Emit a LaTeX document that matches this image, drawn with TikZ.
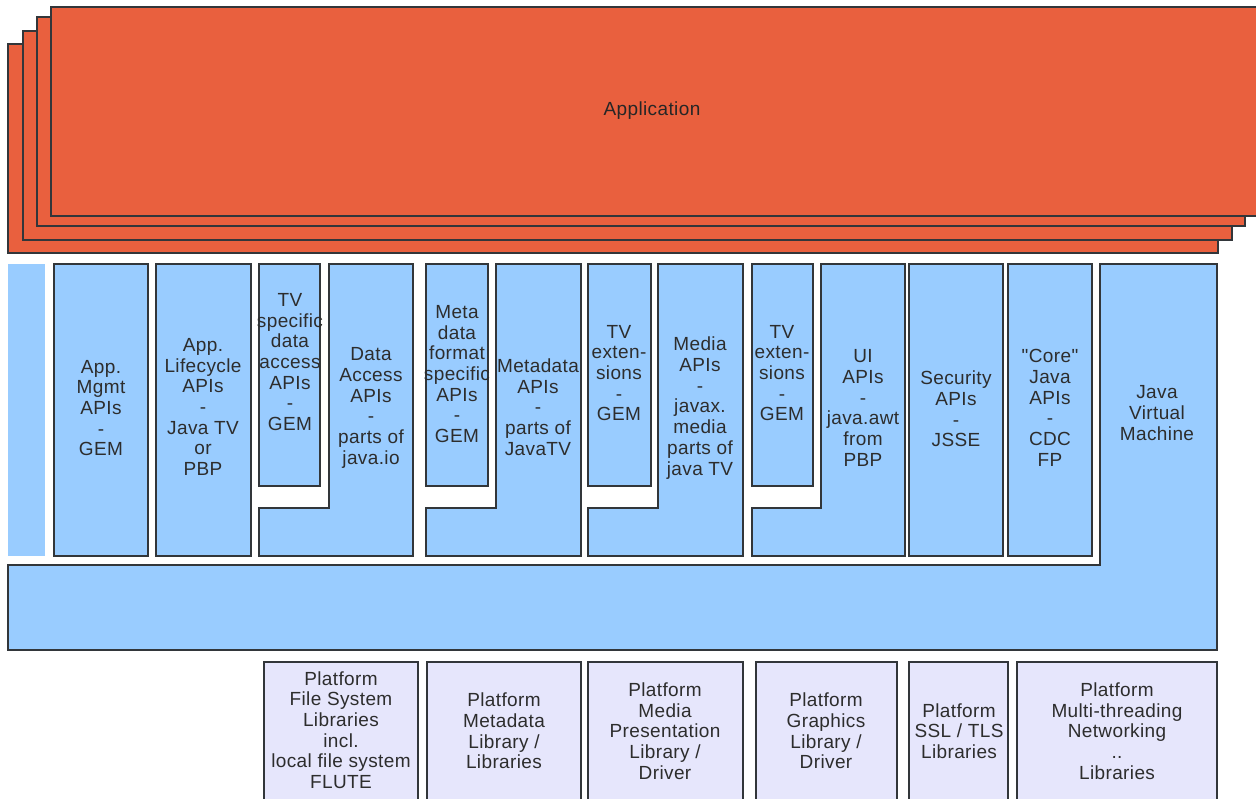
\documentclass[tikz,border=0pt]{standalone}
\usepackage{fontspec}
\setmainfont{Liberation Sans}[LetterSpace=2, Ligatures=TeXOff]
\usepackage{xcolor}
\usetikzlibrary{positioning}
\definecolor{AppOrange}{RGB}{233, 96, 62}
\definecolor{ApiBlue}{RGB}{153, 204, 255}
\definecolor{LibLavender}{RGB}{230, 230, 252}
\definecolor{EdgeGray}{RGB}{50, 54, 58}
\definecolor{LabelGray}{RGB}{45, 45, 45}
\tikzset{
    appbox/.style={fill=AppOrange, draw=EdgeGray, line width=1.2pt},
    apibox/.style={fill=ApiBlue, draw=EdgeGray, line width=1.2pt},
    libbox/.style={fill=LibLavender, draw=EdgeGray, line width=1.2pt},
    lbl/.style={align=center, inner sep=0pt, text=LabelGray,
        font=\fontsize{19}{20.7}\selectfont}
}

\begin{document}
\begin{tikzpicture}[x=1pt, y=-1pt]
    \useasboundingbox (0,0) rectangle (1256,799);
    \clip (0,0) rectangle (1256,799);
    % application stack, back to front
    \draw[appbox] (8,44) rectangle (1218,253);
    \draw[appbox] (23,31) rectangle (1232,240);
    \draw[appbox] (37,17) rectangle (1245,226);
    \draw[appbox] (51,7) rectangle (1262,216);
    \node[lbl, text=black!85] (app) at (652,111) {Application};

    % API layer
    \fill[ApiBlue] (8,264) rectangle (45,556);
    \foreach \a/\b in {54/148, 156/251, 909/1003, 1008/1092}
        \draw[apibox] (\a,264) rectangle (\b,556);
    \foreach \a/\b in {259/320, 426/488, 588/651, 752/813}
        \draw[apibox] (\a,264) rectangle (\b,486);
    \foreach \a/\b/\c in {259/329/413, 426/496/581, 588/658/743, 752/821/905}
        \draw[apibox] (\a,508) -- (\b,508) -- (\b,264) -- (\c,264) -- (\c,556) -- (\a,556) -- cycle;
    % virtual machine
    \draw[apibox] (8,565) -- (1100,565) -- (1100,264) -- (1217,264) -- (1217,650) -- (8,650) -- cycle;

    \node[lbl] (mgmt) at (101,408) {App.\\Mgmt\\APIs\\-\\GEM};
    \node[lbl] (lifecycle) at (203,407) {App.\\Lifecycle\\APIs\\-\\Java TV\\or\\PBP};
    \node[lbl] (tvdata) at (290,362) {TV\\specific\\data\\access\\APIs\\-\\GEM};
    \node[lbl] (dataaccess) at (371,408) {Data\\Access\\APIs\\-\\parts of\\java.io};
    \node[lbl] (metaformat) at (457,374) {Meta\\data\\format\\specific\\APIs\\-\\GEM};
    \node[lbl] (metadata) at (538,407) {Metadata\\APIs\\-\\parts of\\JavaTV};
    \node[lbl] (tvext) at (619,373) {TV\\exten-\\sions\\-\\GEM};
    \node[lbl] (media) at (700,408) {Media\\APIs\\-\\javax.\\media\\parts of\\java TV};
    \node[lbl] (tvexttwo) at (782,373) {TV\\exten-\\sions\\-\\GEM};
    \node[lbl] (ui) at (863,408) {UI\\APIs\\-\\java.awt\\from\\PBP};
    \node[lbl] (security) at (956,409) {Security\\APIs\\-\\JSSE};
    \node[lbl] (core) at (1050,408) {"Core"\\Java\\APIs\\-\\CDC\\FP};
    \node[lbl] (jvm) at (1157,413) {Java\\Virtual\\Machine};

    % platform libraries
    \foreach \a/\b in {264/418, 427/581, 588/743, 756/897, 909/1008, 1017/1217}
        \draw[libbox] (\a,662) rectangle (\b,810);
    \node[lbl] (filesys) at (341,730) {Platform\\File System\\Libraries\\incl.\\local file system\\FLUTE};
    \node[lbl] (metalib) at (504,731) {Platform\\Metadata\\Library /\\Libraries};
    \node[lbl] (medialib) at (665,731) {Platform\\Media\\Presentation\\Library /\\Driver};
    \node[lbl] (graphics) at (826,731) {Platform\\Graphics\\Library /\\Driver};
    \node[lbl] (ssl) at (959,731) {Platform\\SSL / TLS\\Libraries};
    \node[lbl] (threading) at (1117,731) {Platform\\Multi-threading\\Networking\\..\\Libraries};
\end{tikzpicture}
\end{document}
